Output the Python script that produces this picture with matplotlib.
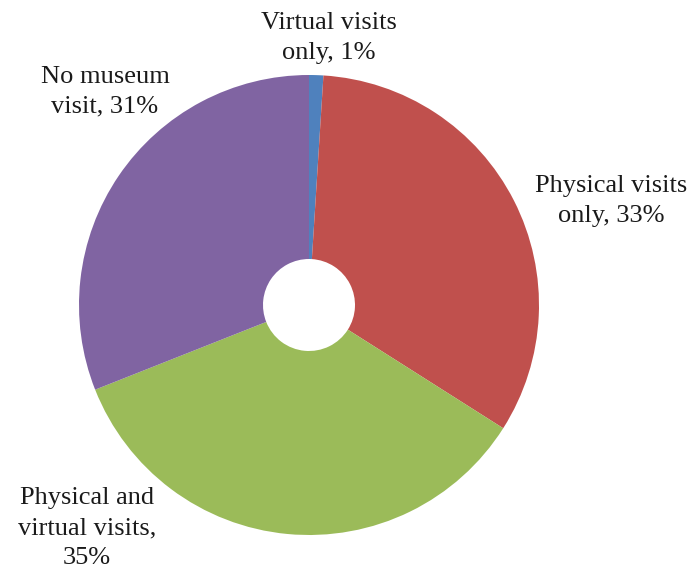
import matplotlib.pyplot as plt

# visit type shares (percent)
labels = ["Virtual visits\nonly, 1%", "Physical visits\nonly, 33%",
          "Physical and\nvirtual visits,\n35%", "No museum\nvisit, 31%"]
shares = [1, 33, 35, 31]
colors = ["#4F81BD", "#C0504D", "#9BBB59", "#8064A2"]

# label anchor points, in figure pixels (y measured upwards)
label_x = [329, 611, 87, 105]
label_y = [536, 373, 46, 482]

plt.rcParams["font.family"] = ["Liberation Serif", "DejaVu Serif"]

fig = plt.figure(figsize=(6.89, 5.74), dpi=100)
ax = fig.add_axes([0, 0, 1, 1])

outer_r = 230
hole_r = 46
ax.pie(shares, colors=colors, startangle=90, counterclock=False,
       center=(309, 269), radius=outer_r, frame=True,
       wedgeprops=dict(width=outer_r - hole_r, linewidth=0))
ax.set_xlim(0, 689)
ax.set_ylim(0, 574)
ax.set_aspect("equal")
ax.axis("off")

for text, x, y in zip(labels, label_x, label_y):
    ax.text(x, y, text, ha="center", va="center", fontsize=19,
            linespacing=1.45, color="#1a1a1a")

fig.savefig("out.png", dpi=100)
